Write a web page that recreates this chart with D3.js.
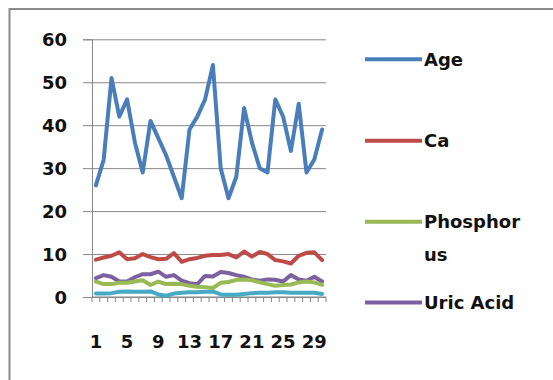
<!DOCTYPE html>
<html>
<head>
<meta charset="utf-8">
<script src="https://cdn.jsdelivr.net/npm/d3@7"></script>
<style>
  body { margin: 0; background: #fff; }
  text { font-family: "DejaVu Sans", sans-serif; font-weight: bold; font-size: 18px; fill: #111; }
</style>
</head>
<body>
<div id="chart"></div>
<script>
// Data
const categories = [1,2,3,4,5,6,7,8,9,10,11,12,13,14,15,16,17,18,19,20,21,22,23,24,25,26,27,28,29,30]
const xTickLabels = [1,5,9,13,17,21,25,29]
const yTicks = [0,10,20,30,40,50,60]

const age = [26,32,51,42,46,36,29,41,37,33,28,23,39,42,46,54,30,23,28,44,36,30,29,46,42,34,45,29,32,39]
const ca = [8.7,9.2,9.6,10.4,8.8,9.0,10.0,9.3,8.8,8.9,10.2,8.2,8.8,9.1,9.6,9.8,9.8,10.0,9.2,10.6,9.4,10.5,10.0,8.6,8.3,7.8,9.6,10.3,10.4,8.6]
const phosphorus = [3.6,3.0,3.0,3.3,3.3,3.6,3.9,2.8,3.6,3.0,3.1,3.0,2.6,2.4,2.3,2.1,3.3,3.5,4.0,4.1,3.9,3.4,3.0,2.6,2.8,2.9,3.4,3.6,3.4,2.8]
const uricAcid = [4.4,5.1,4.7,3.6,3.6,4.6,5.3,5.3,5.9,4.7,5.1,3.8,3.2,3.0,4.9,4.8,5.8,5.6,5.1,4.7,4.1,3.8,4.1,4.0,3.6,5.1,4.1,3.8,4.7,3.6]
const creatinine = [0.8,0.8,0.9,1.2,1.3,1.2,1.2,1.3,0.6,0.3,0.8,1.0,1.1,1.1,1.2,1.3,0.6,0.5,0.5,0.7,0.9,1.0,1.0,1.1,1.1,1.0,1.0,1.0,1.0,0.7]

const seriesNames = ['Age', 'Ca', 'Phosphorus', 'Uric Acid', 'Creatinine']
const seriesValues = [age, ca, phosphorus, uricAcid, creatinine]
const seriesColours = ['#4a7ebb', '#be4b48', '#98b954', '#7d60a0', '#46aac5']
// legend shows the first four entries (the fifth falls below the frame)
const legendLabels = [['Age'], ['Ca'], ['Phosphor', 'us'], ['Uric Acid']]

// Dimensions
const dimensions = {
  width: 553,
  height: 380,
  left: 92,
  right: 326,
  top: 39.3,
  bottom: 297
}

const svg = d3.select('#chart')
  .append('svg')
    .attr('width', dimensions.width)
    .attr('height', dimensions.height)

// chart area frame
svg.append('rect')
  .attr('x', 9.5)
  .attr('y', 9)
  .attr('width', 600)
  .attr('height', 420)
  .attr('fill', 'none')
  .attr('stroke', '#8a8a8a')
  .attr('stroke-width', 2)

// Scales
const x = d3.scaleBand()
  .domain(categories)
  .range([dimensions.left, dimensions.right])
  .padding(0)

const y = d3.scaleLinear()
  .domain([0, 60])
  .range([dimensions.bottom, dimensions.top])

// gridlines + y axis
const yAxis = d3.axisLeft(y)
  .tickValues(yTicks)
  .tickSize(9)
  .tickPadding(16)

const yg = svg.append('g')
  .attr('transform', `translate(${dimensions.left},0)`)
  .call(yAxis)
yg.select('.domain').attr('stroke', '#868686')
yg.selectAll('.tick line')
  .attr('stroke', '#868686')
  .attr('x1', dimensions.right - dimensions.left)
yg.selectAll('.tick text')
  .attr('font-size', null)
  .attr('font-family', null)
  .attr('fill', null)
  .attr('dy', '0.36em')

// x axis
const xg = svg.append('g')
  .attr('transform', `translate(0,${dimensions.bottom})`)

xg.append('line')
  .attr('x1', dimensions.left)
  .attr('x2', dimensions.right)
  .attr('stroke', '#868686')

const boundaries = categories.map(d => x(d)).concat([dimensions.right])
xg.selectAll('.xtick')
  .data(boundaries)
  .join('line')
  .attr('class', 'xtick')
  .attr('x1', d => d)
  .attr('x2', d => d)
  .attr('y1', 0)
  .attr('y2', 5)
  .attr('stroke', '#868686')

xg.selectAll('.xlabel')
  .data(xTickLabels)
  .join('text')
  .attr('class', 'xlabel')
  .attr('x', d => x(d) + x.bandwidth() / 2)
  .attr('y', 51)
  .attr('text-anchor', 'middle')
  .text(d => d)

// lines
const line = d3.line()
  .x((d, i) => x(categories[i]) + x.bandwidth() / 2)
  .y(d => y(d))

svg.selectAll('.series')
  .data(seriesValues.slice().reverse())
  .join('path')
  .attr('class', 'series')
  .attr('d', d => line(d))
  .attr('fill', 'none')
  .attr('stroke', (d, i) => seriesColours[seriesColours.length - 1 - i])
  .attr('stroke-width', 4)
  .attr('stroke-linejoin', 'round')
  .attr('stroke-linecap', 'round')

// legend
const legendY = [59.3, 140.7, 221.7, 302.5]
const legend = svg.selectAll('.legend')
  .data(legendLabels)
  .join('g')
  .attr('class', 'legend')
  .attr('transform', (d, i) => `translate(365,${legendY[i]})`)

legend.append('line')
  .attr('x1', 0)
  .attr('x2', 57)
  .attr('stroke', (d, i) => seriesColours[i])
  .attr('stroke-width', 4)

legend.each(function (d) {
  const g = d3.select(this)
  d.forEach((s, j) => {
    g.append('text')
      .attr('x', 59)
      .attr('y', 6.5 + j * 33)
      .text(s)
  })
})
</script>
</body>
</html>
